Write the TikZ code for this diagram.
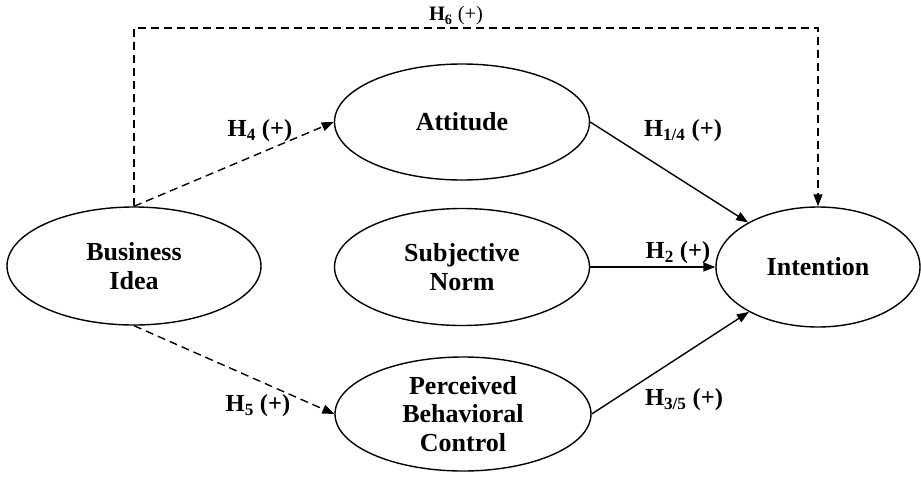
\documentclass[tikz,border=0pt]{standalone}
\usepackage{fontspec}
\setmainfont{Liberation Serif}
\usetikzlibrary{arrows.meta,shapes.geometric}

\begin{document}
\begin{tikzpicture}[x=1pt,y=-1pt,
  construct/.style={draw, line width=1.4pt, ellipse, inner sep=-12pt, align=center,
    font=\fontsize{26}{28.5}\selectfont\bfseries},
  hyp/.style={font=\fontsize{24.5}{26}\selectfont\bfseries, inner sep=0pt},
  effect/.style={line width=1.4pt, -{Triangle[length=12pt,width=9pt]}},
  indirect/.style={effect, dash pattern=on 8pt off 5pt}
]
\useasboundingbox (0,0) rectangle (921,477);

% constructs
\node[construct, minimum width=254pt, minimum height=118pt] (bi)  at (134,266) {Business\\Idea};
\node[construct, minimum width=255pt, minimum height=116pt] (att) at (462,122) {Attitude};
\node[construct, minimum width=255pt, minimum height=117pt] (sn)  at (462,267) {Subjective\\Norm};
\node[construct, minimum width=256pt, minimum height=114pt] (pbc) at (463,414) {Perceived\\Behavioral\\Control};
\node[construct, minimum width=204pt, minimum height=120pt] (int) at (818,267) {Intention};

% direct effect of the business idea on intention
\coordinate (c1) at (134,28);
\coordinate (c2) at (818,28);
\draw[indirect] (bi.north) -- (c1) -- (c2) -- (int.north);

% mediated paths
\draw[indirect] (bi.north) -- (att.west);
\draw[indirect] (bi.south) -- (pbc.west);

% theory of planned behaviour paths
\draw[effect] (att.east) -- (int);
\draw[effect] (sn.east) -- (int.west);
\draw[effect] (pbc.east) -- (int);

% hypothesis labels
\node[inner sep=0pt, font=\fontsize{20.5}{22}\selectfont] (h6) at (456,16) {\textbf{H\textsubscript{6}} (+)};
\node[hyp] (h4)  at (260,131) {H\textsubscript{4} (+)};
\node[hyp] (h14) at (683,131) {H\textsubscript{1/4} (+)};
\node[hyp] (h2)  at (678,253) {H\textsubscript{2} (+)};
\node[hyp] (h5)  at (258,406) {H\textsubscript{5} (+)};
\node[hyp] (h35) at (684,400) {H\textsubscript{3/5} (+)};
\end{tikzpicture}
\end{document}
